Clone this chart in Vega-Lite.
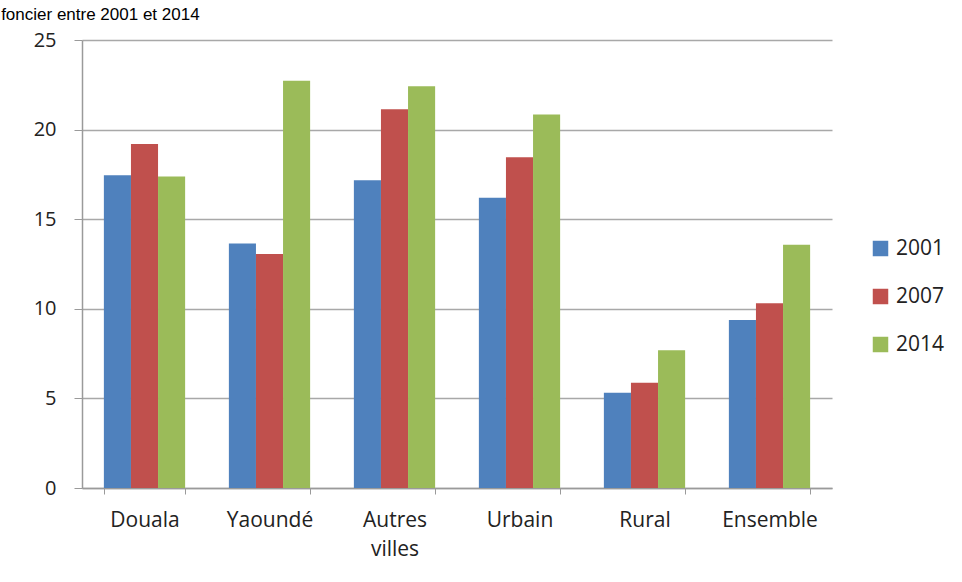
{
  "$schema": "https://vega.github.io/schema/vega-lite/v6.json",
  "width": 750,
  "height": 448,
  "autosize": {"type": "none"},
  "padding": {"left": 82, "top": 40, "right": 130, "bottom": 94},
  "background": "white",
  "title": {
    "text": "foncier entre 2001 et 2014",
    "anchor": "start",
    "frame": "bounds",
    "dx": -32,
    "offset": 6,
    "fontSize": 17,
    "font": "Liberation Sans",
    "fontWeight": "normal",
    "color": "#000000"
  },
  "data": {
    "values": [
      {"zone": "Douala", "annee": "2001", "valeur": 17.45},
      {"zone": "Douala", "annee": "2007", "valeur": 19.2},
      {"zone": "Douala", "annee": "2014", "valeur": 17.38},
      {"zone": "Yaoundé", "annee": "2001", "valeur": 13.65},
      {"zone": "Yaoundé", "annee": "2007", "valeur": 13.06},
      {"zone": "Yaoundé", "annee": "2014", "valeur": 22.72},
      {"zone": "Autres villes", "annee": "2001", "valeur": 17.18},
      {"zone": "Autres villes", "annee": "2007", "valeur": 21.13},
      {"zone": "Autres villes", "annee": "2014", "valeur": 22.42},
      {"zone": "Urbain", "annee": "2001", "valeur": 16.2},
      {"zone": "Urbain", "annee": "2007", "valeur": 18.46},
      {"zone": "Urbain", "annee": "2014", "valeur": 20.84},
      {"zone": "Rural", "annee": "2001", "valeur": 5.32},
      {"zone": "Rural", "annee": "2007", "valeur": 5.88},
      {"zone": "Rural", "annee": "2014", "valeur": 7.68},
      {"zone": "Ensemble", "annee": "2001", "valeur": 9.38},
      {"zone": "Ensemble", "annee": "2007", "valeur": 10.31},
      {"zone": "Ensemble", "annee": "2014", "valeur": 13.57}
    ]
  },
  "mark": {"type": "bar"},
  "encoding": {
    "x": {
      "field": "zone",
      "type": "nominal",
      "sort": ["Douala", "Yaoundé", "Autres villes", "Urbain", "Rural", "Ensemble"],
      "scale": {"paddingInner": 0.35, "paddingOuter": 0.175},
      "axis": {
        "title": null,
        "labelAngle": 0,
        "labelFont": "Open Sans",
        "labelFontSize": 21,
        "labelColor": "#222222",
        "labelPadding": 15,
        "labelLineHeight": 29,
        "labelExpr": "datum.label == 'Autres villes' ? ['Autres', 'villes'] : datum.label",
        "tickBand": "extent",
        "tickSize": 6,
        "tickColor": "#9a9a9a",
        "domainColor": "#9a9a9a",
        "domainWidth": 1.5,
        "grid": false
      }
    },
    "xOffset": {"field": "annee", "type": "nominal", "scale": {"paddingInner": 0, "paddingOuter": 0}},
    "y": {
      "field": "valeur",
      "type": "quantitative",
      "scale": {"domain": [0, 25]},
      "axis": {
        "title": null,
        "values": [0, 5, 10, 15, 20, 25],
        "labelFont": "Open Sans",
        "labelFontSize": 20,
        "labelColor": "#222222",
        "labelPadding": 18,
        "tickSize": 8,
        "tickColor": "#9a9a9a",
        "domainColor": "#9a9a9a",
        "domainWidth": 1.5,
        "gridColor": "#a8a8a8",
        "gridWidth": 1.5
      }
    },
    "color": {
      "field": "annee",
      "type": "nominal",
      "scale": {"domain": ["2001", "2007", "2014"], "range": ["#4f81bd", "#c0504d", "#9bbb59"]},
      "legend": {
        "title": null,
        "orient": "none",
        "legendX": 788,
        "legendY": 198,
        "symbolType": "square",
        "symbolSize": 240,
        "symbolStrokeWidth": 0,
        "labelFont": "Open Sans",
        "labelFontSize": 21,
        "labelColor": "#222222",
        "rowPadding": 26,
        "labelOffset": 5
      }
    }
  },
  "config": {"view": {"stroke": null}}
}
